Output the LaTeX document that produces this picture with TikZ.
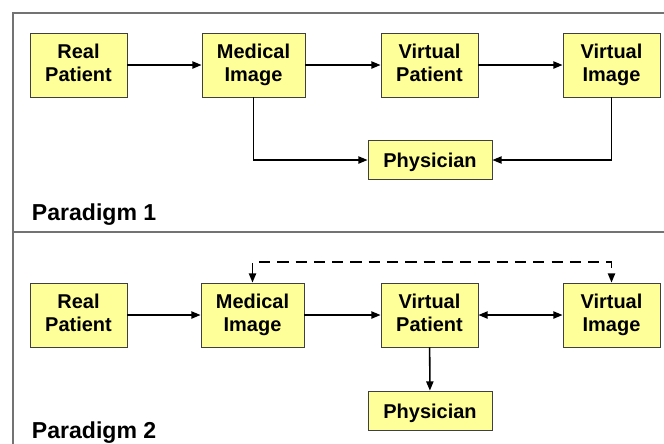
\documentclass[tikz,border=0pt]{standalone}
\usepackage{fontspec}
\setmainfont{Liberation Sans}
\usetikzlibrary{arrows.meta}
\definecolor{boxyellow}{HTML}{FFFF99}

\begin{document}
\begin{tikzpicture}[x = 0.025cm, y = -0.025cm,
  >={Triangle[length=2.3mm, width=1.8mm]},
  box/.style = {draw=black!75, line width=0.6pt, fill=boxyellow, align=center,
    font=\fontsize{14.2}{17}\selectfont\bfseries, minimum width=2.425cm,
    minimum height=1.6cm, inner sep=0pt,
    execute at begin node={\rule{0pt}{14.4pt}},
    execute at end node={\rule[-3.2pt]{0pt}{3.2pt}}},
  flow/.style = {->, line width=1.1pt},
  title/.style = {anchor=base west, font=\fontsize{16.4}{19}\selectfont\bfseries}]
\useasboundingbox (0,0) rectangle (664,443);
% frame
\draw [black!55, line width=0.8pt] (13,450) -- (13,13) -- (670,13);
\draw [black!55, line width=0.8pt] (13,232) -- (670,232);
% paradigm 1
\node [box] (real1) at (78.5,65) {Real\\Patient};
\node [box, minimum width=2.575cm] (med1) at (253.5,65) {Medical\\Image};
\node [box] (vpat1) at (429.5,65) {Virtual\\Patient};
\node [box] (vimg1) at (611.5,65) {Virtual\\Image};
\node [box, minimum width=3.1cm, minimum height=0.975cm] (phys1) at (430,160) {Physician};
\draw [flow] (real1) -- (med1);
\draw [flow] (med1) -- (vpat1);
\draw [flow] (vpat1) -- (vimg1);
\draw [flow] (med1.south) |- (phys1.west);
\draw [flow] (vimg1.south) |- (phys1.east);
\node [title] (par1) at (27,220) {Paradigm 1};
% paradigm 2
\node [box] (real2) at (78.5,315) {Real\\Patient};
\node [box, minimum width=2.575cm] (med2) at (252.5,315) {Medical\\Image};
\node [box] (vpat2) at (429.5,315) {Virtual\\Patient};
\node [box] (vimg2) at (611.5,315) {Virtual\\Image};
\node [box, minimum width=3.1cm, minimum height=0.975cm] (phys2) at (430,410.5) {Physician};
\coordinate (loop2) at (252.5,262);
\draw [flow] (real2) -- (med2);
\draw [flow] (med2) -- (vpat2);
\draw [flow, <->] (vpat2) -- (vimg2);
\draw [flow] (vpat2) -- (phys2);
\draw [flow, <->, dash pattern=on 8pt off 5pt] (med2.north) -- (loop2) -| (vimg2.north);
\node [title] (par2) at (27,438) {Paradigm 2};
\end{tikzpicture}
\end{document}
